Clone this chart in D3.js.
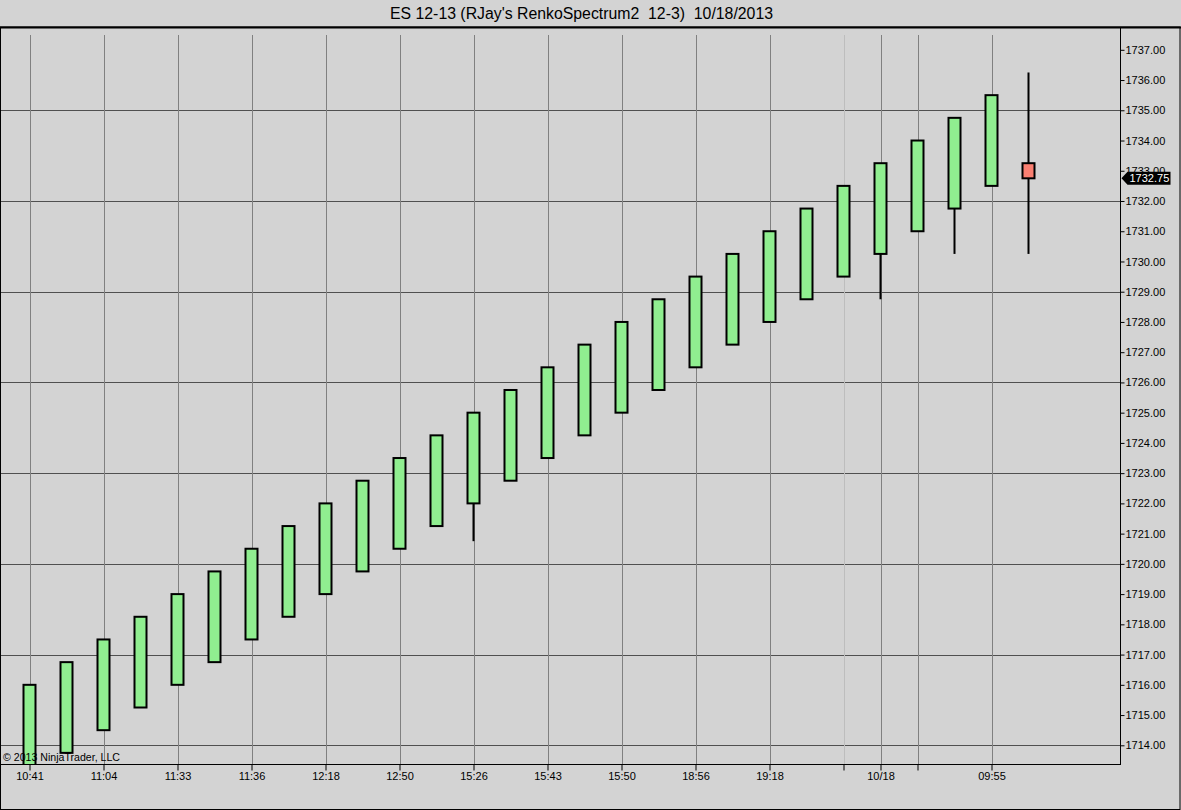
<!DOCTYPE html>
<html>
<head>
<meta charset="utf-8">
<script src="https://cdn.jsdelivr.net/npm/d3@7/dist/d3.min.js"></script>
<style>
  html, body { margin: 0; padding: 0; background: #d3d3d3; }
  svg { display: block; }
  text { font-family: "Liberation Sans", Arial, sans-serif; }
</style>
</head>
<body>
<svg id="chart" width="1181" height="810"></svg>
<script>
// ---- data ----
const barIndex = [0,1,2,3,4,5,6,7,8,9,10,11,12,13,14,15,16,17,18,19,20,21,22,23,24,25,26,27];
const opens  = [1713.00,1713.75,1714.50,1715.25,1716.00,1716.75,1717.50,1718.25,1719.00,1719.75,1720.50,1721.25,1722.00,1722.75,1723.50,1724.25,1725.00,1725.75,1726.50,1727.25,1728.00,1728.75,1729.50,1730.25,1731.00,1731.75,1732.50,1733.25];
const closes = [1716.00,1716.75,1717.50,1718.25,1719.00,1719.75,1720.50,1721.25,1722.00,1722.75,1723.50,1724.25,1725.00,1725.75,1726.50,1727.25,1728.00,1728.75,1729.50,1730.25,1731.00,1731.75,1732.50,1733.25,1734.00,1734.75,1735.50,1732.75];
const highs  = [1716.00,1716.75,1717.50,1718.25,1719.00,1719.75,1720.50,1721.25,1722.00,1722.75,1723.50,1724.25,1725.00,1725.75,1726.50,1727.25,1728.00,1728.75,1729.50,1730.25,1731.00,1731.75,1732.50,1733.25,1734.00,1734.75,1735.50,1736.25];
const lows   = [1713.00,1713.75,1714.50,1715.25,1716.00,1716.75,1717.50,1718.25,1719.00,1719.75,1720.50,1721.25,1720.75,1722.75,1723.50,1724.25,1725.00,1725.75,1726.50,1727.25,1728.00,1728.75,1729.50,1728.75,1731.00,1730.25,1732.50,1730.25];

const xTickIndex  = [0,2,4,6,8,10,12,14,16,18,20,22,23,24,26];
const xTickLabels = ["10:41","11:04","11:33","11:36","12:18","12:50","15:26","15:43","15:50","18:56","19:18","","10/18","","09:55"];
const yTickValues = [1714,1715,1716,1717,1718,1719,1720,1721,1722,1723,1724,1725,1726,1727,1728,1729,1730,1731,1732,1733,1734,1735,1736,1737];
const yGridValues = [1714,1717,1720,1723,1726,1729,1732,1735];
const lastPrice = 1732.75;
const titleText = "ES 12-13 (RJay's RenkoSpectrum2  12-3)  10/18/2013";
const copyrightText = "\u00A9 2013 NinjaTrader, LLC";

// ---- layout ----
const W = 1181, H = 810;
const plot = { left: 1, top: 27, right: 1120, bottom: 764 };

const svg = d3.select("#chart");
svg.append("rect").attr("width", W).attr("height", H).attr("fill", "#d3d3d3");

const x = d3.scalePoint().domain(barIndex).range([29.5, 29.5 + 37 * 27]);
const y = d3.scaleLinear().domain([1714, 1737]).range([745.3, 49.8]);

svg.append("defs").append("clipPath").attr("id", "plotclip")
  .append("rect").attr("x", plot.left).attr("y", plot.top)
  .attr("width", plot.right - plot.left).attr("height", plot.bottom - plot.top);

const g = svg.append("g").attr("clip-path", "url(#plotclip)");

// horizontal grid
g.selectAll("line.hgrid").data(yGridValues).enter().append("line")
  .attr("class", "hgrid")
  .attr("x1", plot.left).attr("x2", plot.right)
  .attr("y1", d => Math.round(y(d)) + 0.5).attr("y2", d => Math.round(y(d)) + 0.5)
  .attr("stroke", "#505050").attr("stroke-width", 1);

// vertical grid
g.selectAll("line.vgrid").data(xTickIndex).enter().append("line")
  .attr("class", "vgrid")
  .attr("x1", d => Math.round(x(d)) + 0.5).attr("x2", d => Math.round(x(d)) + 0.5)
  .attr("y1", 35).attr("y2", plot.bottom)
  .attr("stroke", (d, i) => xTickLabels[i] === "" && d === 22 ? "#bdbdbd" : "#808080")
  .attr("stroke-width", 1);

// candles
const bars = barIndex.map(i => ({ i, o: opens[i], c: closes[i], h: highs[i], l: lows[i] }));

g.selectAll("line.wick").data(bars).enter().append("line")
  .attr("class", "wick")
  .attr("x1", d => x(d.i)).attr("x2", d => x(d.i))
  .attr("y1", d => y(d.h)).attr("y2", d => y(d.l))
  .attr("stroke", "#000").attr("stroke-width", 2);

g.selectAll("rect.body").data(bars).enter().append("rect")
  .attr("class", "body")
  .attr("x", d => x(d.i) - 6)
  .attr("width", 12)
  .attr("y", d => y(Math.max(d.o, d.c)))
  .attr("height", d => Math.abs(y(d.o) - y(d.c)))
  .attr("fill", d => d.c >= d.o ? "#90ee90" : "#fa8072")
  .attr("stroke", "#000").attr("stroke-width", 2);

// copyright
svg.append("text").attr("x", 3).attr("y", 761)
  .attr("font-size", 11).attr("fill", "#000")
  .attr("textLength", 117).attr("lengthAdjust", "spacingAndGlyphs")
  .text(copyrightText);

// axes lines
svg.append("line").attr("x1", plot.right + 0.5).attr("x2", plot.right + 0.5)
  .attr("y1", plot.top).attr("y2", plot.bottom + 1).attr("stroke", "#000");
svg.append("line").attr("x1", 0).attr("x2", plot.right + 1)
  .attr("y1", plot.bottom + 0.5).attr("y2", plot.bottom + 0.5).attr("stroke", "#000");

// right y axis
const yAxis = d3.axisRight(y).tickValues(yTickValues).tickSize(4).tickPadding(1)
  .tickFormat(d => d3.format(".2f")(d));
const ya = svg.append("g").attr("transform", `translate(${plot.right + 0.5},0)`).call(yAxis);
ya.select(".domain").remove();
ya.selectAll(".tick line").attr("stroke", "#000");
ya.selectAll(".tick text").attr("font-size", 11).attr("fill", "#000")
  .attr("font-family", "'Liberation Sans', Arial, sans-serif");

// bottom x axis
const xAxis = d3.axisBottom(x).tickValues(xTickIndex).tickSize(6).tickPadding(2)
  .tickFormat((d, i) => xTickLabels[i]);
const xa = svg.append("g").attr("transform", `translate(0,${plot.bottom + 0.5})`).call(xAxis);
xa.select(".domain").remove();
xa.selectAll(".tick line").attr("stroke", "#000");
xa.selectAll(".tick text").attr("font-size", 11).attr("fill", "#000")
  .attr("font-family", "'Liberation Sans', Arial, sans-serif");

// last price marker
const py = y(lastPrice);
const mx = plot.right + 1.5;
svg.append("path")
  .attr("d", `M${mx},${py} L${mx + 6},${py - 6.5} L${mx + 49},${py - 6.5} L${mx + 49},${py + 6.5} L${mx + 6},${py + 6.5} Z`)
  .attr("fill", "#000");
svg.append("text").attr("x", mx + 8).attr("y", py + 4)
  .attr("font-size", 11).attr("fill", "#fff")
  .text(d3.format(".2f")(lastPrice));

// frame
svg.append("rect").attr("x", 0.5).attr("y", 27).attr("width", W - 1.5).attr("height", H - 27.5)
  .attr("fill", "none").attr("stroke", "#000").attr("stroke-width", 1);
svg.append("line").attr("x1", 0).attr("x2", W).attr("y1", 27.5).attr("y2", 27.5)
  .attr("stroke", "#000").attr("stroke-width", 2);

// title
svg.append("text").attr("x", 390).attr("y", 19)
  .attr("font-size", 16).attr("fill", "#000")
  .attr("textLength", 383).attr("lengthAdjust", "spacingAndGlyphs")
  .style("white-space", "pre")
  .text(titleText);
</script>
</body>
</html>
